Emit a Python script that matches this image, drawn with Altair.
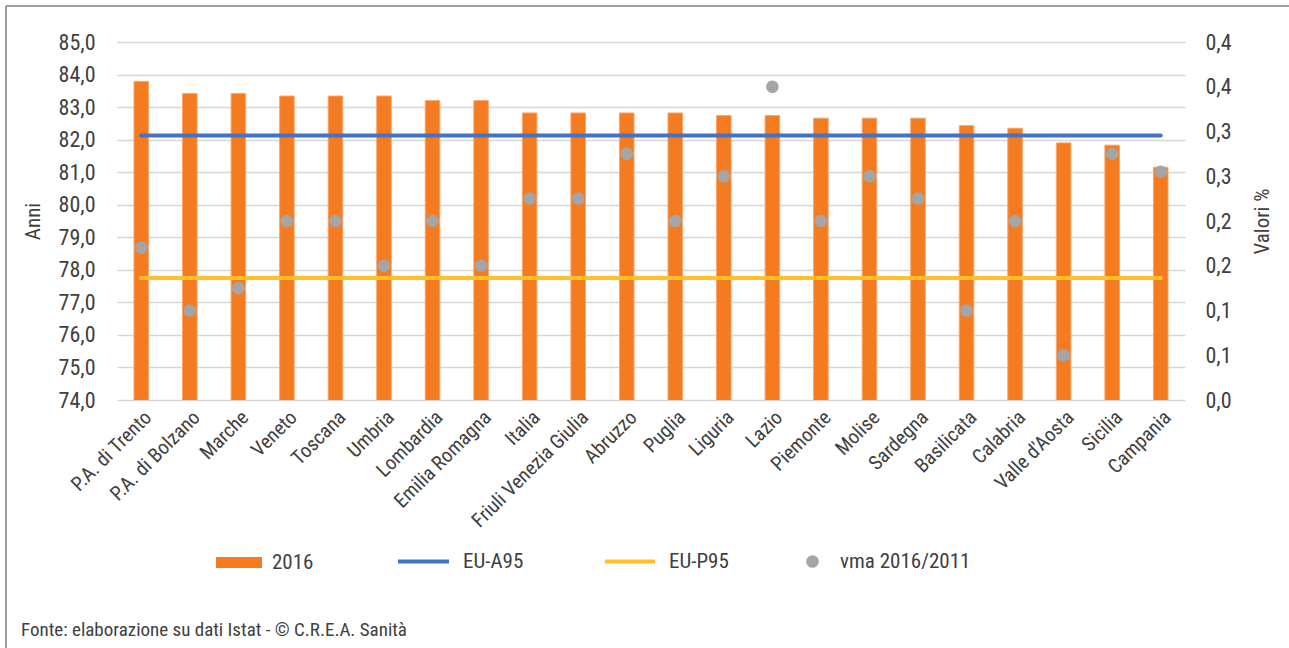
import altair as alt
import pandas as pd

# Speranza di vita alla nascita 2016 per regione, riferimenti EU e variazione media annua
regioni = ["P.A. di Trento", "P.A. di Bolzano", "Marche", "Veneto", "Toscana", "Umbria",
           "Lombardia", "Emilia Romagna", "Italia", "Friuli Venezia Giulia", "Abruzzo",
           "Puglia", "Liguria", "Lazio", "Piemonte", "Molise", "Sardegna", "Basilicata",
           "Calabria", "Valle d'Aosta", "Sicilia", "Campania"]
anni_2016 = [83.79, 83.42, 83.42, 83.34, 83.34, 83.34, 83.2, 83.2, 82.82, 82.82, 82.82,
             82.82, 82.74, 82.74, 82.66, 82.66, 82.66, 82.43, 82.35, 81.9, 81.83, 81.15]
vma_2016_2011 = [0.17, 0.1, 0.125, 0.2, 0.2, 0.15, 0.2, 0.15, 0.225, 0.225, 0.275,
                 0.2, 0.25, 0.35, 0.2, 0.25, 0.225, 0.1, 0.2, 0.05, 0.275, 0.255]
eu_a95 = 82.13
eu_p95 = 77.75
anni_ticks = list(range(74, 86))
valori_ticks = [0, 0.05, 0.1, 0.15, 0.2, 0.25, 0.3, 0.35, 0.4]
fonte = "Fonte: elaborazione su dati Istat - © C.R.E.A. Sanità"

FONT = "Liberation Sans Narrow, Roboto Condensed, Roboto, sans-serif"
TXT = "#404040"
ORANGE = "#F47B20"
BLUE = "#4472C4"
YELLOW = "#FFC02A"
GRAY = "#A5A5A5"

df_bar = pd.DataFrame({"regione": regioni, "anni": anni_2016, "serie": "2016"})
df_a95 = pd.DataFrame({"regione": regioni, "anni": eu_a95, "serie": "EU-A95"})
df_p95 = pd.DataFrame({"regione": regioni, "anni": eu_p95, "serie": "EU-P95"})
df_vma = pd.DataFrame({"regione": regioni, "vma": vma_2016_2011, "serie": "vma 2016/2011"})

X = alt.X(
    "regione:N", sort=regioni, title=None,
    scale=alt.Scale(paddingInner=0.7, paddingOuter=0.35),
    axis=alt.Axis(labelAngle=-45, labelFontSize=20, labelFont=FONT, labelColor=TXT,
                  ticks=False, domain=False, labelPadding=7, grid=False, labelLimit=300),
)
Y_ANNI = alt.Y(
    "anni:Q", title="Anni",
    scale=alt.Scale(domain=[74, 85], nice=False, zero=False),
    axis=alt.Axis(values=anni_ticks, orient="left", grid=True, gridColor="#D6D6D6",
                  gridWidth=1.6, ticks=False, domain=False, labelPadding=22,
                  labelFont=FONT, labelFontSize=22, labelColor=TXT,
                  labelExpr="replace(format(datum.value, '.1f'), '.', ',')",
                  titleFont=FONT, titleFontSize=21, titleColor=TXT,
                  titleFontWeight="normal", titlePadding=15),
)

legend_common = dict(orient="none", title=None, labelFont=FONT, labelFontSize=21,
                     labelColor=TXT, padding=0)

bars = alt.Chart(df_bar).mark_bar(color=ORANGE, stroke="#F9A66C", strokeWidth=1,
                                  clip=True).encode(
    x=X, y=Y_ANNI,
    color=alt.Color("serie:N", scale=alt.Scale(domain=["2016"], range=[ORANGE]),
                    legend=alt.Legend(symbolType="M-1,-0.24H1V0.24H-1Z", symbolSize=2116,
                                      symbolStrokeWidth=0, labelOffset=10, legendX=99,
                                      legendY=497.5, **legend_common)),
)

line_a = alt.Chart(df_a95).mark_line(strokeWidth=4, strokeCap="round").encode(
    x=X, y=Y_ANNI,
    stroke=alt.Stroke("serie:N", scale=alt.Scale(domain=["EU-A95"], range=[BLUE]),
                      legend=alt.Legend(symbolType="stroke", symbolSize=2601,
                                        symbolStrokeWidth=4, labelOffset=12, legendX=279,
                                        legendY=492, **legend_common)),
)

line_p = alt.Chart(df_p95).mark_line(strokeWidth=4, strokeCap="round").encode(
    x=X, y=Y_ANNI,
    stroke=alt.Stroke("serie:N", scale=alt.Scale(domain=["EU-P95"], range=[YELLOW]),
                      legend=alt.Legend(symbolType="stroke", symbolSize=2500,
                                        symbolStrokeWidth=4, labelOffset=12, legendX=486,
                                        legendY=492.5, **legend_common)),
)

points = alt.Chart(df_vma).mark_point(filled=True, size=160, opacity=1).encode(
    x=X,
    y=alt.Y("vma:Q", title="Valori %",
            scale=alt.Scale(domain=[0, 0.4], nice=False, zero=True),
            axis=alt.Axis(values=valori_ticks, orient="right", grid=False, ticks=False,
                          domain=False, labelPadding=20, labelFont=FONT, labelFontSize=22,
                          labelColor=TXT,
                          labelExpr="replace(format(datum.value + 0.001, '.1f'), '.', ',')",
                          titleFont=FONT, titleFontSize=21, titleColor=TXT,
                          titleFontWeight="normal", titleAngle=270, titlePadding=41)),
    fill=alt.Fill("serie:N", scale=alt.Scale(domain=["vma 2016/2011"], range=[GRAY]),
                  legend=alt.Legend(symbolType="circle", symbolSize=160, symbolOpacity=1,
                                    labelOffset=17, legendX=685, legendY=509,
                                    **legend_common)),
)

# Cornice del riquadro (lato superiore e sinistro) e nota sulla fonte
one = pd.DataFrame({"t": [fonte]})
frame_top = alt.Chart(one).mark_rule(color="#7F7F7F", strokeWidth=1.5).encode(
    x=alt.value(-111), x2=alt.value(1172), y=alt.value(-36))
frame_left = alt.Chart(one).mark_rule(color="#7F7F7F", strokeWidth=1.5).encode(
    x=alt.value(-111), y=alt.value(-36), y2=alt.value(606))
source = alt.Chart(one).mark_text(align="left", baseline="alphabetic", font=FONT,
                                  fontSize=19, color=TXT).encode(
    x=alt.value(-96), y=alt.value(594), text="t:N")

left_layer = alt.layer(bars, line_a, line_p).resolve_scale(stroke="independent")

chart = alt.layer(left_layer, points, frame_top, frame_left, source).resolve_scale(
    y="independent"
).properties(
    width=1068, height=358,
    padding={"left": 117, "top": 42, "right": 104, "bottom": 248},
    autosize=alt.AutoSizeParams(type="none"),
    background="white",
).configure_view(stroke=None)

chart.save("out.html", embed_options={"renderer": "svg", "actions": False})
